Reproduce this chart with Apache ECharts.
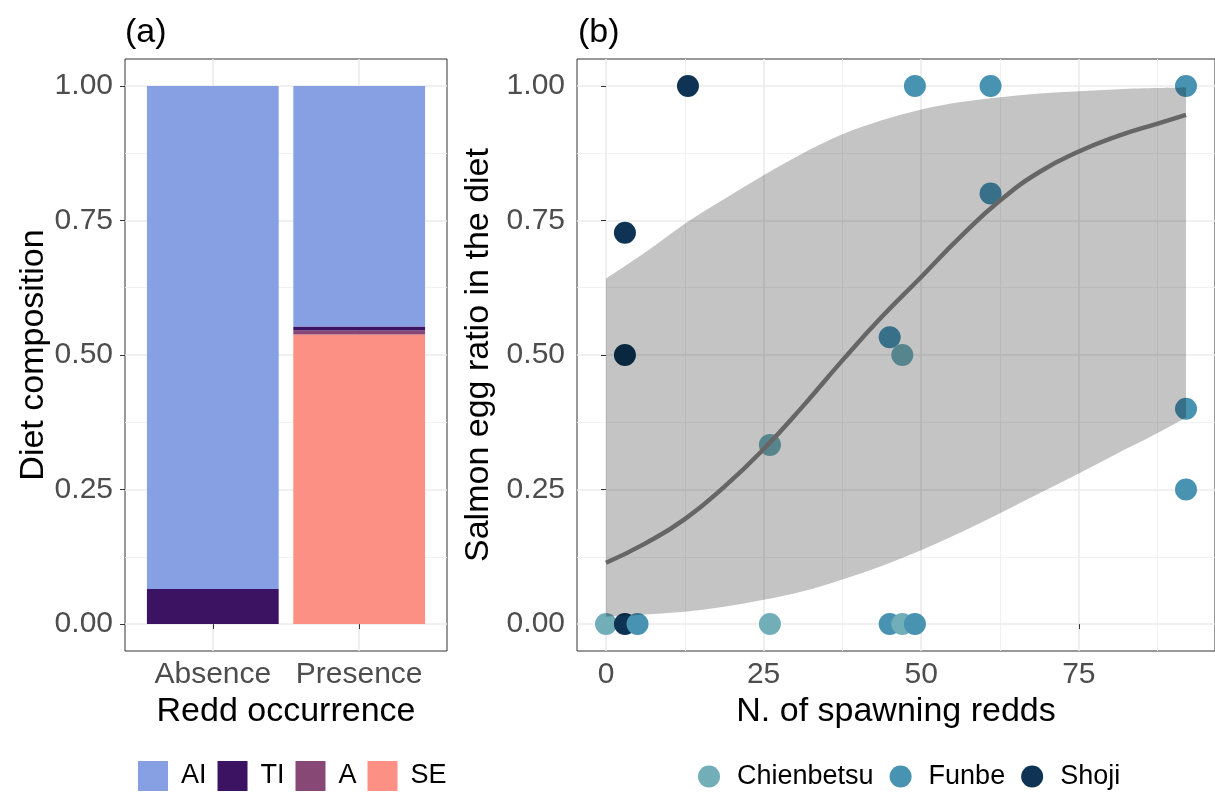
<!DOCTYPE html>
<html><head><meta charset="utf-8">
<script src="https://cdn.jsdelivr.net/npm/echarts@6/dist/echarts.min.js"></script>
<style>html,body{margin:0;padding:0;background:#fff}#c{width:1215px;height:794px}</style>
</head><body><div id="c"></div>
<script>
// ---------- data ----------
const occurrence = ['Absence', 'Presence'];
const dietGroups = ['AI', 'TI', 'A', 'SE'];
const dietAI = [0.935, 0.447];
const dietTI = [0.065, 0.0075];
const dietA  = [0.0, 0.0075];
const dietSE = [0.0, 0.538];

const yTicks = [0, 0.25, 0.5, 0.75, 1];
const yMinor = [0.125, 0.375, 0.625, 0.875];
const reddTicks = [0, 25, 50, 75];
const reddMinor = [12.5, 37.5, 62.5, 87.5];

const sites = ['Chienbetsu', 'Funbe', 'Shoji'];
const chienX = [0, 26, 26, 47, 47];
const chienY = [0, 0, 0.333, 0, 0.5];
const funbeX = [5, 45, 45, 49, 49, 61, 61, 92, 92, 92];
const funbeY = [0, 0, 0.533, 0, 1, 1, 0.8, 1, 0.4, 0.25];
const shojiX = [3, 3, 3, 13];
const shojiY = [0, 0.5, 0.727, 1];

const fitX   = [0, 6.25, 12.5, 18.75, 25, 31.25, 37.5, 43.75, 50, 56.25, 62.5, 68.75, 75, 81.25, 87.5, 92];
const fitY   = [0.114, 0.150, 0.195, 0.255, 0.325, 0.405, 0.490, 0.571, 0.645, 0.720, 0.787, 0.840, 0.878, 0.907, 0.930, 0.946];
const fitLow = [0.014, 0.018, 0.023, 0.032, 0.045, 0.061, 0.083, 0.108, 0.137, 0.170, 0.206, 0.243, 0.280, 0.318, 0.355, 0.384];
const fitUp  = [0.642, 0.691, 0.744, 0.790, 0.834, 0.875, 0.910, 0.936, 0.956, 0.970, 0.979, 0.986, 0.990, 0.994, 0.996, 0.997];

// ---------- styles ----------
const FONT = '"Liberation Sans", Arial, Helvetica, sans-serif';
const dietColors = {AI: '#86A0E3', TI: '#3C1363', A: '#874876', SE: '#FD9084'};
const siteColors = {Chienbetsu: '#72AEB8', Funbe: '#4892B2', Shoji: '#0E3354'};
const tickLabelStyle = {color: '#4D4D4D', fontSize: 30, fontFamily: FONT};
const titleStyle = {color: '#000', fontSize: 34, fontFamily: FONT};
const majorGrid = {show: true, lineStyle: {color: '#EBEBEB', width: 1.6}};
const minorGrid = {show: true, lineStyle: {color: '#EFEFEF', width: 0.9}};

function majorAxis(gridIndex, min, max, ticks, fmt, name, nameGap, margin, pos) {
  return {
    type: 'value', gridIndex, min, max, position: pos,
    axisLine: {show: false},
    axisTick: {show: true, customValues: ticks, length: 5, lineStyle: {color: '#333', width: 1}},
    axisLabel: {show: true, customValues: ticks, formatter: fmt, margin, ...tickLabelStyle},
    splitLine: majorGrid,
    name, nameLocation: 'middle', nameGap, nameTextStyle: titleStyle
  };
}
function minorAxis(gridIndex, min, max, ticks, pos) {
  return {
    type: 'value', gridIndex, min, max, position: pos,
    axisLine: {show: false},
    axisTick: {show: false, customValues: ticks},
    axisLabel: {show: false},
    splitLine: minorGrid
  };
}

// Catmull-Rom -> cubic bezier segments through pixel points
function curveSegs(p) {
  let d = '';
  for (let i = 0; i < p.length - 1; i++) {
    const p0 = p[i - 1] || p[i], p1 = p[i], p2 = p[i + 1], p3 = p[i + 2] || p[i + 1];
    const c1 = [p1[0] + (p2[0] - p0[0]) / 6, p1[1] + (p2[1] - p0[1]) / 6];
    const c2 = [p2[0] - (p3[0] - p1[0]) / 6, p2[1] - (p3[1] - p1[1]) / 6];
    d += ' C' + c1[0] + ' ' + c1[1] + ' ' + c2[0] + ' ' + c2[1] + ' ' + p2[0] + ' ' + p2[1];
  }
  return d;
}

// scatter points in drawing order (by x)
const pts = [];
[[chienX, chienY, 'Chienbetsu'], [funbeX, funbeY, 'Funbe'], [shojiX, shojiY, 'Shoji']].forEach(([xs, ys, s]) => {
  xs.forEach((x, i) => pts.push({x, y: ys[i], s}));
});
pts.sort((a, b) => a.x - b.x);

const barSeries = [['SE', dietSE], ['A', dietA], ['TI', dietTI], ['AI', dietAI]].map(([n, vals]) => ({
  name: n, type: 'bar', stack: 'diet', xAxisIndex: 4, yAxisIndex: 4,
  barWidth: '90%', itemStyle: {color: dietColors[n]},
  data: vals
}));

const option = {
  animation: false,
  backgroundColor: '#fff',
  title: [
    {text: '(a)', left: 120, top: 11, textStyle: {...titleStyle, fontWeight: 'normal'}},
    {text: '(b)', left: 573, top: 11, textStyle: {...titleStyle, fontWeight: 'normal'}}
  ],
  grid: [
    {left: 125, top: 59, width: 322, height: 592, show: true, borderColor: '#333', borderWidth: 1, backgroundColor: '#fff'},
    {left: 577, top: 59, width: 647, height: 592, show: true, borderColor: '#333', borderWidth: 1, backgroundColor: '#fff'},
    {left: 139.6, top: 59, width: 292.8, height: 592, show: false}
  ],
  xAxis: [
    majorAxis(0, 0.4, 2.6, [1, 2], v => occurrence[Math.round(v) - 1], 'Redd occurrence', 43, 9, 'bottom'),
    majorAxis(1, -4.6, 96.6, reddTicks, v => String(v), 'N. of spawning redds', 43, 9, 'bottom'),
    minorAxis(1, -4.6, 96.6, reddMinor, 'bottom'),
    minorAxis(0, 0.4, 2.6, [], 'bottom'),
    {type: 'category', gridIndex: 2, data: occurrence, show: false}
  ],
  yAxis: [
    majorAxis(0, -0.05, 1.05, yTicks, v => v.toFixed(2), 'Diet composition', 71, 12, 'left'),
    minorAxis(0, -0.05, 1.05, yMinor, 'left'),
    majorAxis(1, -0.05, 1.05, yTicks, v => v.toFixed(2), 'Salmon egg ratio in the diet', 67, 12, 'left'),
    minorAxis(1, -0.05, 1.05, yMinor, 'left'),
    {type: 'value', gridIndex: 2, min: -0.05, max: 1.05, show: false, splitLine: {show: false}}
  ],
  legend: [
    {data: dietGroups, left: 138, top: 761, padding: 0, orient: 'horizontal', icon: 'rect',
     itemWidth: 30, itemHeight: 30, itemGap: 11,
     textStyle: {fontSize: 27, color: '#000', fontFamily: FONT, padding: [0, 0, 0, 8]}},
    {data: sites, left: 698, top: 763, padding: 0, orient: 'horizontal', icon: 'circle',
     itemWidth: 22, itemHeight: 22, itemGap: 16,
     textStyle: {fontSize: 27, color: '#000', fontFamily: FONT, padding: [0, 0, 0, 12]}}
  ],
  series: [
    ...barSeries,
    {
      name: 'points', type: 'scatter', xAxisIndex: 1, yAxisIndex: 2, symbolSize: 22, z: 2,
      data: pts.map(p => ({value: [p.x, p.y], itemStyle: {color: siteColors[p.s], opacity: 1}}))
    },
    {
      name: 'ribbon', type: 'custom', xAxisIndex: 1, yAxisIndex: 2, z: 3, silent: true,
      data: fitX.map((x, i) => [x, fitLow[i], fitUp[i]]),
      encode: {x: 0, y: [1, 2]},
      renderItem: (params, api) => {
        if (params.dataIndex !== 0) return null;
        const upper = fitX.map((x, i) => api.coord([x, fitUp[i]]));
        const lower = fitX.map((x, i) => api.coord([x, fitLow[i]])).reverse();
        const d = 'M' + upper[0][0] + ' ' + upper[0][1] + curveSegs(upper) +
                  ' L' + lower[0][0] + ' ' + lower[0][1] + curveSegs(lower) + ' Z';
        return {type: 'path', shape: {pathData: d}, style: {fill: 'rgba(0,0,0,0.23)'}};
      }
    },
    {
      name: 'fit', type: 'line', xAxisIndex: 1, yAxisIndex: 2, z: 4,
      symbol: 'none', smooth: true, silent: true,
      lineStyle: {color: '#666666', width: 4.5},
      data: fitX.map((x, i) => [x, fitY[i]])
    },
    ...sites.map(s => ({name: s, type: 'scatter', xAxisIndex: 1, yAxisIndex: 2, data: [], itemStyle: {color: siteColors[s], opacity: 1}}))
  ]
};
const chart = echarts.init(document.getElementById('c'), null, {renderer: 'canvas'});
chart.setOption(option);
</script></body></html>
